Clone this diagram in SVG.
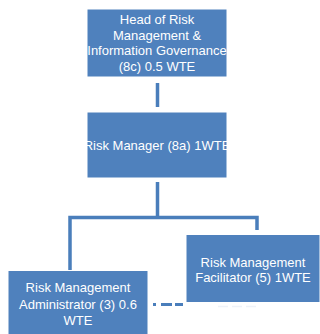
<svg xmlns="http://www.w3.org/2000/svg" width="320" height="334" viewBox="0 0 320 334">
<style>
.box{fill:#4f81bd;stroke:#ffffff;stroke-width:1}
.t{font-family:"Liberation Sans",Arial,sans-serif;font-size:13px;fill:#ffffff;text-anchor:middle}
.c{fill:none;stroke:#4a7ebb;stroke-width:3.5}
</style>
<rect width="320" height="334" fill="#ffffff"/>
<g id="connectors">
<line class="c" x1="157.5" y1="83" x2="157.5" y2="107"/>
<polyline class="c" points="157.5,182 157.5,217.5"/>
<polyline class="c" points="70,270 70,217.5 257,217.5 257,230"/>
<line x1="153" y1="304.5" x2="183" y2="304.5" stroke="#4a7ebb" stroke-width="3" stroke-dasharray="3,5,11,3,8,0"/>
<line x1="218" y1="306.5" x2="258" y2="306.5" stroke="#eef2f8" stroke-width="1.5" stroke-dasharray="10,4"/>
</g>
<g id="head">
<rect class="box" x="87" y="9" width="140" height="68"/>
<text class="t" x="157" y="24">Head of Risk</text>
<text class="t" x="157" y="39.5">Management &amp;</text>
<text class="t" x="157" y="55">Information Governance</text>
<text class="t" x="157" y="70.5">(8c) 0.5 WTE</text>
</g>
<g id="riskmanager">
<rect class="box" x="87" y="112" width="140" height="66"/>
<text class="t" x="157" y="149.5">Risk Manager (8a) 1WTE</text>
</g>
<g id="facilitator">
<rect class="box" x="186" y="234.5" width="134" height="68"/>
<text class="t" x="253" y="266.5">Risk Management</text>
<text class="t" x="253" y="282">Facilitator (5) 1WTE</text>
</g>
<g id="administrator">
<rect class="box" x="8" y="270.5" width="140" height="70"/>
<text class="t" x="78" y="292">Risk Management</text>
<text class="t" x="78" y="308.5">Administrator (3) 0.6</text>
<text class="t" x="78" y="325">WTE</text>
</g>
</svg>
